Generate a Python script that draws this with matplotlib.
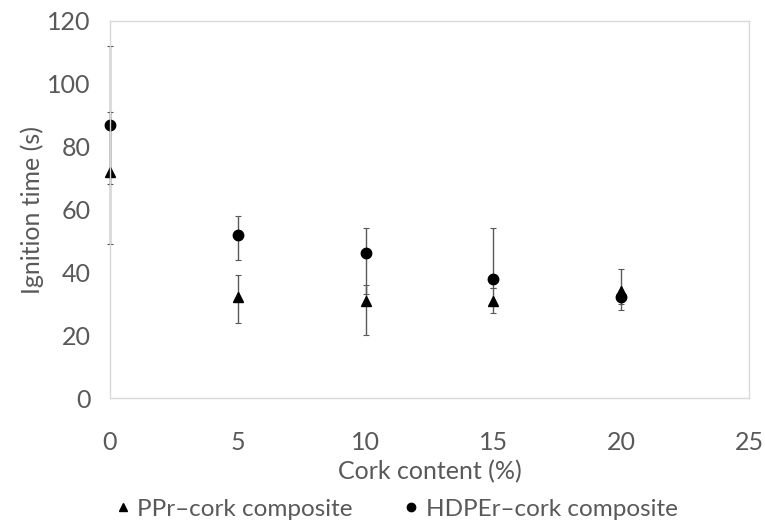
import numpy as np
import matplotlib
matplotlib.use("Agg")
from matplotlib import pyplot as plt
from matplotlib.lines import Line2D

cork = [0, 5, 10, 15, 20]

# PPr-cork composite
ppr = [72, 32, 31, 31, 34]
ppr_low = [49, 24, 20, 27, 28]
ppr_high = [91, 39, 36, 35, 41]

# HDPEr-cork composite
hdpe = [87, 52, 46, 38, 32]
hdpe_low = [68, 44, 33, 35, 30]
hdpe_high = [112, 58, 54, 54, 34]

plt.rcParams['font.family'] = ['Lato', 'DejaVu Sans']
grey = '#595959'

fig = plt.figure(figsize=(7.65, 5.32), dpi=100)
ax = fig.add_axes([110/765, (532-398)/532, (749-110)/765, (398-21)/532])

ppr = np.array(ppr)
hdpe = np.array(hdpe)
for y, lo, hi, m in [(ppr, ppr_low, ppr_high, '^'), (hdpe, hdpe_low, hdpe_high, 'o')]:
    cont = ax.errorbar(cork, y, yerr=[y - np.array(lo), np.array(hi) - y],
                       fmt=m, ms=7.5, color='black', ecolor=grey, elinewidth=1.0,
                       capsize=2, capthick=0.8)
    for art in cont.get_children():
        art.set_clip_on(False)

ax.set_xlim(0, 25)
ax.set_ylim(0, 120)
ax.set_xticks(range(0, 26, 5))
ax.set_yticks(range(0, 121, 20))
for s in ax.spines.values():
    s.set_color('#d9d9d9')
    s.set_linewidth(1)
ax.tick_params(length=0, labelsize=18, labelcolor=grey)
ax.tick_params(axis='x', pad=24)
ax.tick_params(axis='y', pad=14)
ax.set_xlabel('Cork content (%)', fontsize=18, color=grey, labelpad=4)
ax.set_ylabel('Ignition time (s)', fontsize=18, color=grey, labelpad=2)

handles = [Line2D([], [], ls='none', marker='^', ms=6, color='black'),
           Line2D([], [], ls='none', marker='o', ms=6, color='black')]
fig.legend(handles, ['PPr–cork composite', 'HDPEr–cork composite'],
           loc='center', bbox_to_anchor=(393/765, 1 - 509/532), ncol=2,
           frameon=False, fontsize=17.5, handletextpad=0.0,
           columnspacing=1.8, handlelength=1.2, labelcolor=grey)

fig.savefig('out.png', dpi=100)
